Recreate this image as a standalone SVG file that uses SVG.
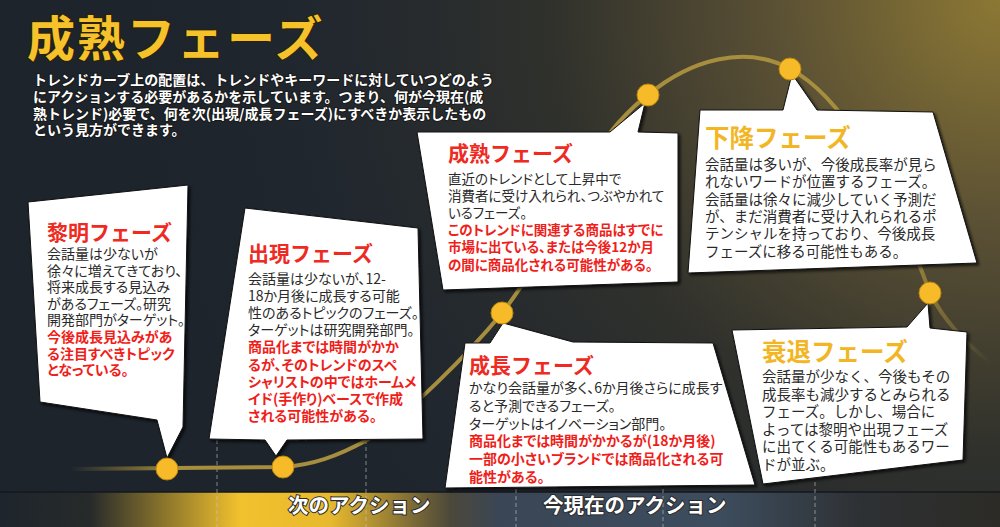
<svg xmlns="http://www.w3.org/2000/svg" width="1000" height="527" viewBox="0 0 1000 527">
<defs>
<radialGradient id="glow" cx="1000" cy="0" r="900" gradientUnits="userSpaceOnUse">
<stop offset="0" stop-color="#8c7834"/>
<stop offset="0.25" stop-color="#5a5034"/>
<stop offset="0.5" stop-color="#30312c"/>
<stop offset="0.8" stop-color="#222830" stop-opacity="0.6"/>
<stop offset="1" stop-color="#1d242c" stop-opacity="0"/>
</radialGradient>
<linearGradient id="bar" x1="0" y1="0" x2="1000" y2="0" gradientUnits="userSpaceOnUse">
<stop offset="0" stop-color="#1e252c"/>
<stop offset="0.09" stop-color="#262a2a"/>
<stop offset="0.24" stop-color="#f2c12e"/>
<stop offset="0.33" stop-color="#e8b92e"/>
<stop offset="0.45" stop-color="#4c483a"/>
<stop offset="0.5" stop-color="#3a4656"/>
<stop offset="0.72" stop-color="#3d4d5e"/>
<stop offset="0.86" stop-color="#2e3134"/>
<stop offset="1" stop-color="#2c2b26"/>
</linearGradient>
<linearGradient id="curveg" x1="70" y1="0" x2="990" y2="0" gradientUnits="userSpaceOnUse">
<stop offset="0" stop-color="#a68e3e" stop-opacity="0"/>
<stop offset="0.12" stop-color="#a68e3e" stop-opacity="1"/>
<stop offset="0.9" stop-color="#a68e3e" stop-opacity="1"/>
<stop offset="1" stop-color="#a68e3e" stop-opacity="0"/>
</linearGradient>
<filter id="sh" x="-10%" y="-10%" width="120%" height="120%">
<feDropShadow dx="2" dy="2" stdDeviation="1.5" flood-color="#000" flood-opacity="0.7"/>
</filter>
<style>
.t{font-family:"Noto Sans CJK JP","Noto Sans CJK SC",sans-serif}
.box{fill:#ffffff;stroke:#111;stroke-width:1;filter:url(#sh)}
.ttl{font-size:21px;font-weight:700;fill:#ee2a22}
.ytl{font-size:24.5px;font-weight:700;fill:#f2b625}
.body{font-size:14px;fill:#2a2a2a;font-feature-settings:"palt"}
.sm{font-size:13.5px}
.red{font-weight:700;fill:#f01e1a}
.body2{font-size:14.5px;fill:#2a2a2a}
.intro{font-size:14px;font-weight:700;fill:#ffffff;stroke:#1a1a1a;stroke-width:2;paint-order:stroke}
.act{font-size:20.5px;font-weight:700;fill:#ffffff;stroke:#2a2a2a;stroke-width:2;paint-order:stroke}
.dash{stroke:#c8c8c8;stroke-opacity:0.6;stroke-width:1;stroke-dasharray:4 3}
.dot{fill:#f7bb2a;stroke:#b8860f;stroke-width:1}
</style>
</defs>
<rect width="1000" height="527" fill="#1d242c"/>
<rect width="1000" height="527" fill="url(#glow)"/>
<g id="bottom-bar">
<rect x="0" y="492" width="1000" height="35" fill="url(#bar)"/>
<line x1="0" y1="492" x2="1000" y2="492" stroke="#15191e" stroke-width="1.5"/>
</g>
<g id="grid">
<line class="dash" x1="217" y1="440" x2="217" y2="527"/>
<line class="dash" x1="366" y1="440" x2="366" y2="527"/>
<line class="dash" x1="516" y1="440" x2="516" y2="527"/>
<line class="dash" x1="663" y1="440" x2="663" y2="527"/>
<line class="dash" x1="815" y1="440" x2="815" y2="527"/>
</g>
<g id="connectors">
<path d="M70,469 L283,467 C312,465 336,457 367,440 C405,418 470,352 502,313 C548,255 585,160 618,123 C630,110 638,102 648,95 C690,60 745,44 790,69 C840,95 885,170 930,293 C945,322 965,343 990,362" fill="none" stroke="url(#curveg)" stroke-width="4"/>
</g>
<g id="title">
<text class="t" x="27" y="56" font-size="48" letter-spacing="2" font-weight="700" fill="#f5c22c" stroke="#2a2205" stroke-width="2" paint-order="stroke">成熟フェーズ</text>
</g>
<g id="intro">
<text class="t intro" x="33" y="85">トレンドカーブ上の配置は、トレンドやキーワードに対していつどのよう</text>
<text class="t intro" x="33" y="102">にアクションする必要があるかを示しています。つまり、何が今現在(成</text>
<text class="t intro" x="33" y="118.5">熟トレンド)必要で、何を次(出現/成長フェーズ)にすべきか表示したもの</text>
<text class="t intro" x="33" y="135">という見方ができます。</text>
</g>
<g id="node-reimei">
<polygon class="box" points="28,202 188,185 183,427 167,458 157,420 40,402"/>
<text class="t ttl" x="47" y="240">黎明フェーズ</text>
<text class="t body" x="47" y="259">会話量は少ないが</text>
<text class="t body" x="47" y="275.6">徐々に増えてきており、</text>
<text class="t body" x="47" y="292.2">将来成長する見込み</text>
<text class="t body" x="47" y="308.8">があるフェーズ。研究</text>
<text class="t body" x="47" y="325.4">開発部門がターゲット。</text>
<text class="t body red" x="47" y="342">今後成長見込みがあ</text>
<text class="t body red" x="47" y="358.6">る注目すべきトピック</text>
<text class="t body red" x="47" y="375.2">となっている。</text>
</g>
<g id="node-shutsugen">
<polygon class="box" points="245,208 418,228 423,439 287,440 276,456 265,440 209,439"/>
<text class="t ttl" x="248" y="261">出現フェーズ</text>
<text class="t body" x="248" y="284">会話量は少ないが、12-</text>
<text class="t body" x="248" y="301.1">18か月後に成長する可能</text>
<text class="t body" x="248" y="318.2">性のあるトピックのフェーズ。</text>
<text class="t body" x="248" y="335.3">ターゲットは研究開発部門。</text>
<text class="t body red" x="248" y="352.4">商品化までは時間がかか</text>
<text class="t body red" x="248" y="369.5">るが、そのトレンドのスペ</text>
<text class="t body red" x="248" y="386.6">シャリストの中ではホームメ</text>
<text class="t body red" x="248" y="403.7">イド(手作り)ベースで作成</text>
<text class="t body red" x="248" y="420.8">される可能性がある。</text>
</g>
<g id="node-seijuku">
<polygon class="box" points="417,132 610,132 645,103 638,132 678,133 678,282 443,290"/>
<text class="t ttl" x="448" y="160.5">成熟フェーズ</text>
<text class="t body sm" x="448" y="184">直近のトレンドとして上昇中で</text>
<text class="t body sm" x="448" y="201.1">消費者に受け入れられ、つぶやかれて</text>
<text class="t body sm" x="448" y="218.2">いるフェーズ。</text>
<text class="t body sm red" x="448" y="235.3">このトレンドに関連する商品はすでに</text>
<text class="t body sm red" x="448" y="252.4">市場に出ている、または今後12か月</text>
<text class="t body sm red" x="448" y="269.5">の間に商品化される可能性がある。</text>
</g>
<g id="node-seicho">
<polygon class="box" points="465,343 490,343 503,323 573,342 713,343 755,485 445,488"/>
<text class="t ttl" x="469" y="372.5">成長フェーズ</text>
<text class="t body" x="469" y="393">かなり会話量が多く、6か月後さらに成長す</text>
<text class="t body" x="469" y="410.8">ると予測できるフェーズ。</text>
<text class="t body" x="469" y="428.6">ターゲットはイノベーション部門。</text>
<text class="t body red" x="469" y="446.4">商品化までは時間がかかるが(18か月後)</text>
<text class="t body red" x="469" y="464.2">一部の小さいブランドでは商品化される可</text>
<text class="t body red" x="469" y="482">能性がある。</text>
</g>
<g id="node-kako">
<polygon class="box" points="700,110 783,110 792,74 817,110 933,112 977,263 688,273"/>
<text class="t ytl" x="705" y="146.5">下降フェーズ</text>
<text class="t body2" x="705" y="170">会話量は多いが、今後成長率が見ら</text>
<text class="t body2" x="705" y="187.3">れないワードが位置するフェーズ。</text>
<text class="t body2" x="705" y="204.6">会話量は徐々に減少していく予測だ</text>
<text class="t body2" x="705" y="221.9">が、まだ消費者に受け入れられるポ</text>
<text class="t body2" x="705" y="239.2">テンシャルを持っており、今後成長</text>
<text class="t body2" x="705" y="256.5">フェーズに移る可能性もある。</text>
</g>
<g id="node-suitai">
<polygon class="box" points="732,330 907,327 928,303 930,328 967,332 963,460 763,484"/>
<text class="t ytl" x="762" y="361">衰退フェーズ</text>
<text class="t body2" x="762" y="382">会話量が少なく、今後もその</text>
<text class="t body2" x="762" y="399.6">成長率も減少するとみられる</text>
<text class="t body2" x="762" y="417.2">フェーズ。しかし、場合に</text>
<text class="t body2" x="762" y="434.8">よっては黎明や出現フェーズ</text>
<text class="t body2" x="762" y="452.4">に出てくる可能性もあるワー</text>
<text class="t body2" x="762" y="470">ドが並ぶ。</text>
</g>
<g id="dots">
<circle class="dot" cx="167" cy="469" r="11"/>
<circle class="dot" cx="283" cy="467" r="11"/>
<circle class="dot" cx="502" cy="313" r="11"/>
<circle class="dot" cx="648" cy="95" r="11"/>
<circle class="dot" cx="790" cy="69" r="11"/>
<circle class="dot" cx="930" cy="293" r="11"/>
</g>
<g id="actions">
<text class="t act" x="288" y="513">次のアクション</text>
<text class="t act" x="543" y="513">今現在のアクション</text>
</g>
</svg>
